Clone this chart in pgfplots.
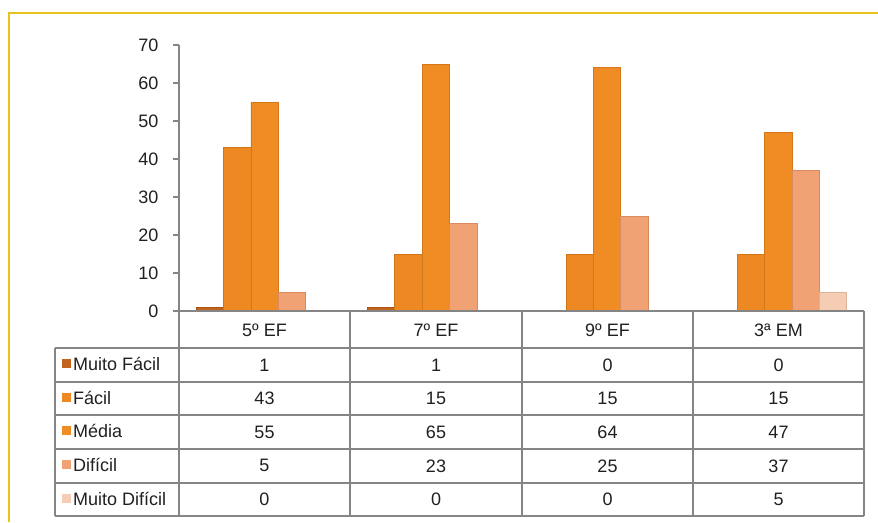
\documentclass[border=0pt]{standalone}
\usepackage{fontspec}
\setmainfont{Liberation Sans}
\usepackage{pgfplots}
\pgfplotsset{compat=1.18}
\definecolor{ybord}{HTML}{E8C21E}
\definecolor{gridg}{HTML}{858585}
\definecolor{txt}{HTML}{202020}
\definecolor{cMF}{HTML}{C2641E}
\definecolor{cMFd}{HTML}{A85214}
\definecolor{cF}{HTML}{EE8822}
\definecolor{cFd}{HTML}{D27418}
\definecolor{cM}{HTML}{F08C24}
\definecolor{cMd}{HTML}{D4761A}
\definecolor{cD}{HTML}{F0A274}
\definecolor{cDd}{HTML}{DA8A5E}
\definecolor{cMD}{HTML}{F4CDB4}
\definecolor{cMDd}{HTML}{E0B298}

\pgfplotstableread{
x MF F M D MD
0 1 43 55 5 0
1 1 15 65 23 0
2 0 15 64 25 0
3 0 15 47 37 5
}\datatable

\begin{document}
\begin{tikzpicture}[x=1pt,y=1pt]
\useasboundingbox (0,0) rectangle (878,-522);
\draw[ybord, line width=2.5] (9,-522) -- (9,-13) -- (878,-13);
\begin{axis}[
  at={(179pt,-311pt)}, anchor=south west,
  scale only axis, width=685pt, height=266pt,
  xmin=-0.5, xmax=3.5, ymin=0, ymax=70,
  axis x line=none,
  axis y line*=left,
  axis line style={gridg, line width=1.3pt},
  ytick={0,10,...,70},
  xtick=\empty,
  tick align=outside,
  major tick length=6pt,
  tick style={gridg, line width=1.3pt},
  tick label style={font=\fontsize{18}{21}\selectfont, text=txt},
  yticklabel style={xshift=-11pt},
  /pgf/number format/assume math mode=true,
  ybar, bar width=0.16,
  clip=false,
]
\addplot[draw=cMFd, line width=0.8pt, fill=cMF, bar shift=-0.32] table[x=x,y=MF]{\datatable};
\addplot[draw=cFd, line width=0.8pt, fill=cF, bar shift=-0.16] table[x=x,y=F]{\datatable};
\addplot[draw=cMd, line width=0.8pt, fill=cM, bar shift=0] table[x=x,y=M]{\datatable};
\addplot[draw=cDd, line width=0.8pt, fill=cD, bar shift=0.16] table[x=x,y=D]{\datatable};
\addplot[draw=cMDd, line width=0.8pt, fill=cMD, bar shift=0.32] table[x=x,y=MD]{\datatable};
\end{axis}
% data table grid
\begin{scope}[gridg, line width=1.3pt]
\draw (179,-311) -- (864,-311);
\foreach \xx in {179,350,522,693,864} \draw (\xx,-311) -- (\xx,-516);
\foreach \yy in {348,382,415,449,483,516} \draw (55,-\yy) -- (864,-\yy);
\draw (55,-348) -- (55,-516);
\end{scope}
\begin{scope}[font=\fontsize{18}{21}\selectfont, text=txt]
\node at (264.5,-330) {5º EF};
\node at (436,-330) {7º EF};
\node at (607.5,-330) {9º EF};
\node at (778.5,-330) {3ª EM};
% row labels
\foreach \lab/\yy/\cc in {Muito Fácil/365/cMF, Fácil/398.5/cF, Média/432/cM, Difícil/466/cD, Muito Difícil/499.5/cMD}{
  \fill[\cc] (62,-\yy-3) rectangle (71,-\yy+6);
  \node[anchor=west, inner sep=0pt] at (73,-\yy+1) {\lab};
}
\foreach \a/\b/\c/\d [count=\i] in {1/1/0/0, 43/15/15/15, 55/65/64/47, 5/23/25/37, 0/0/0/5}{
  \pgfmathsetmacro{\yy}{365+(\i-1)*33.6}
  \node at (264.5,-\yy) {\a};
  \node at (436,-\yy) {\b};
  \node at (607.5,-\yy) {\c};
  \node at (778.5,-\yy) {\d};
}
\end{scope}
\end{tikzpicture}
\end{document}
